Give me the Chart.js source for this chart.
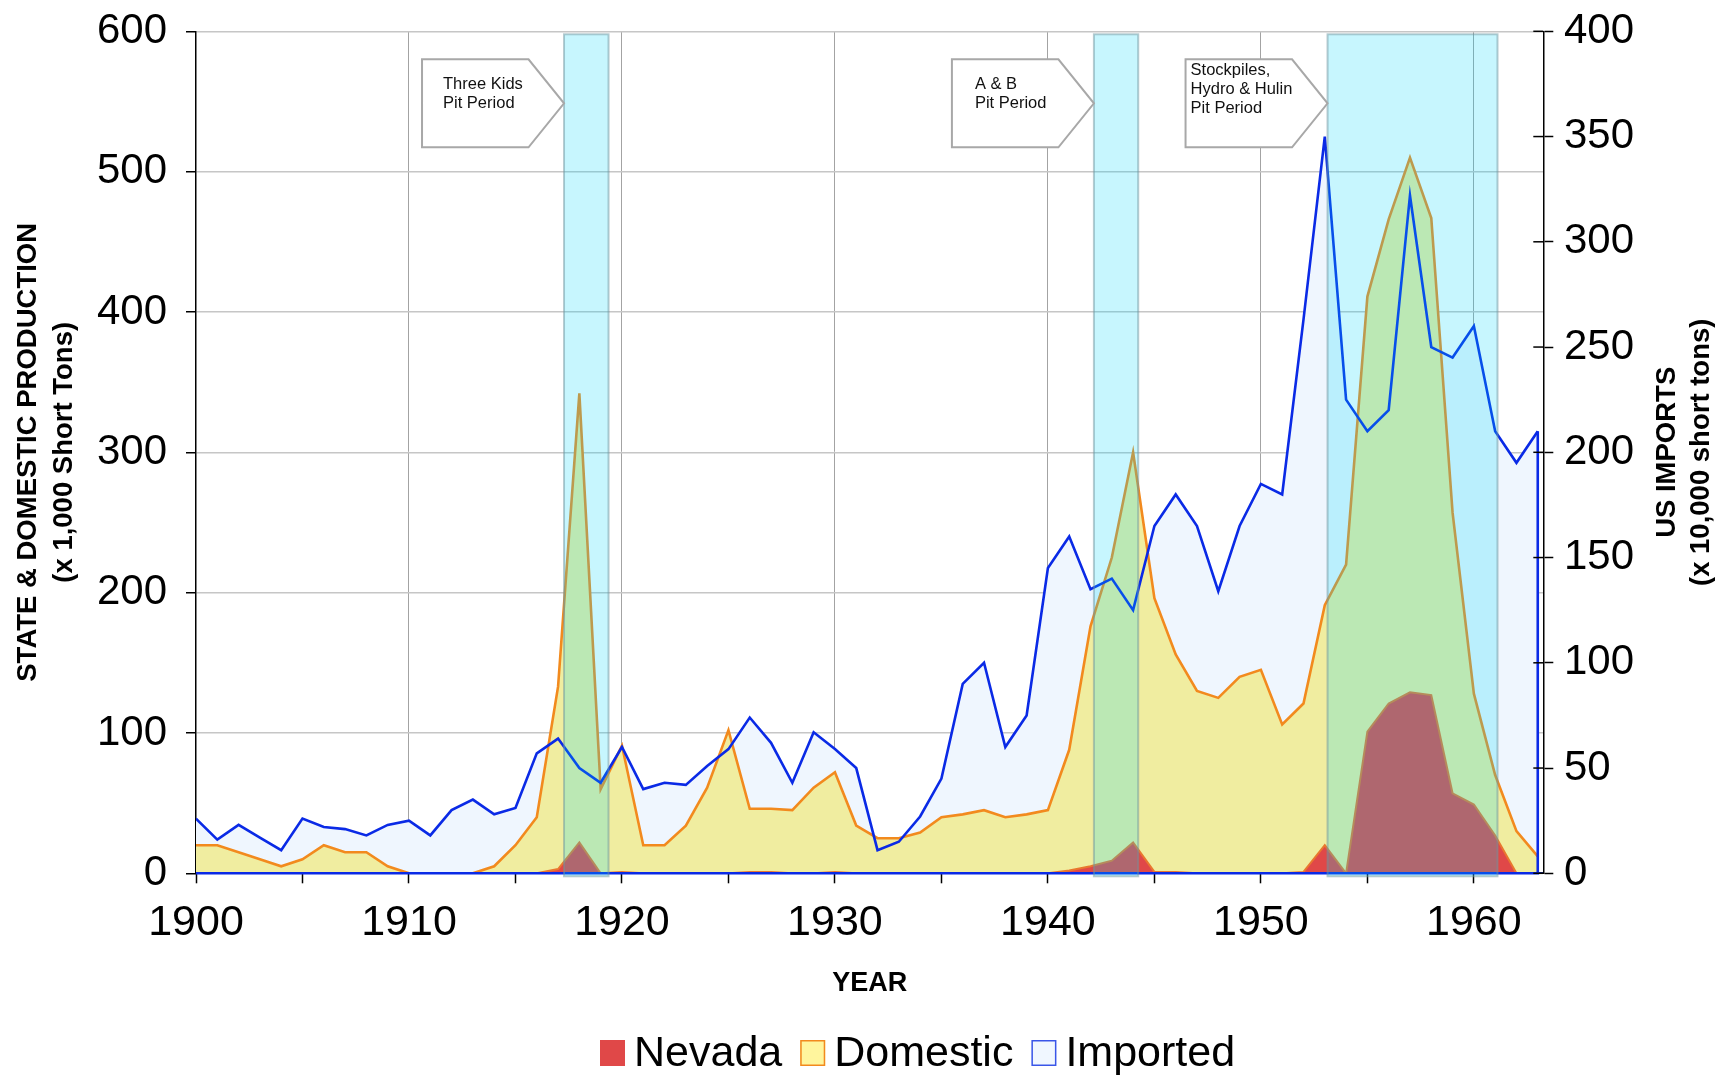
<!DOCTYPE html>
<html lang="en">
<head>
<meta charset="UTF-8">
<title>State, Domestic Production and US Imports</title>
<style>
    body {
        margin: 0;
        background: #fff;
        font-family: "Liberation Sans", Arial, sans-serif;
    }

    .wrap {
        position: relative;
        width: 1727px;
        height: 1078px;
    }
</style>
</head>
<body>
<div class="wrap"><canvas id="chart"></canvas></div>

<script src="https://cdn.jsdelivr.net/npm/chart.js"></script>
<script>
    // Data
    const years = [1900, 1901, 1902, 1903, 1904, 1905, 1906, 1907, 1908, 1909,
        1910, 1911, 1912, 1913, 1914, 1915, 1916, 1917, 1918, 1919,
        1920, 1921, 1922, 1923, 1924, 1925, 1926, 1927, 1928, 1929,
        1930, 1931, 1932, 1933, 1934, 1935, 1936, 1937, 1938, 1939,
        1940, 1941, 1942, 1943, 1944, 1945, 1946, 1947, 1948, 1949,
        1950, 1951, 1952, 1953, 1954, 1955, 1956, 1957, 1958, 1959,
        1960, 1961, 1962, 1963];

    // x 1,000 short tons (left axis)
    const nevada = [0, 0, 0, 0, 0, 0, 0, 0, 0, 0,
        0, 0, 0, 0, 0, 0, 0, 3, 22, 0,
        1, 0, 0, 0, 0, 0, 1, 1, 0, 0,
        1, 0, 0, 0, 0, 0, 0, 0, 0, 0,
        0, 2, 5, 9, 22, 1, 1, 0, 0, 0,
        0, 0, 1, 20, 0, 101, 121, 129, 127, 57,
        49, 27, 0, 0];

    const domestic = [20, 20, 15, 10, 5, 10, 20, 15, 15, 5,
        0, 0, 0, 0, 5, 20, 40, 133, 342, 60,
        91, 20, 20, 34, 61, 102, 46, 46, 45, 61,
        72, 34, 25, 25, 29, 40, 42, 45, 40, 42,
        45, 88, 176, 225, 300, 196, 156, 130, 125, 140,
        145, 106, 121, 191, 220, 411, 466, 510, 467, 257,
        128, 70, 30, 12];

    // x 10,000 short tons (right axis)
    const imported = [26, 16, 23, 17, 11, 26, 22, 21, 18, 23,
        25, 18, 30, 35, 28, 31, 57, 64, 50, 43,
        60, 40, 43, 42, 51, 59, 74, 62, 43, 67,
        59, 50, 11, 15, 27, 45, 90, 100, 60, 75,
        145, 160, 135, 140, 125, 165, 180, 165, 134, 165,
        185, 180, 263, 350, 225, 210, 220, 322, 250, 245,
        260, 210, 195, 210];

    const xTickMarks = [1900, 1905, 1910, 1915, 1920, 1925, 1930, 1935, 1940, 1945, 1950, 1955, 1960];
    const xTickLabels = [1900, 1910, 1920, 1930, 1940, 1950, 1960];
    const leftTicks = [0, 100, 200, 300, 400, 500, 600];
    const rightTicks = [0, 50, 100, 150, 200, 250, 300, 350, 400];

    // mining periods shaded on the chart
    const periodStart = [1917.28, 1942.16, 1953.13];
    const periodEnd = [1919.37, 1944.24, 1961.11];
    const periodLabels = [
        ['Three Kids', 'Pit Period'],
        ['A & B', 'Pit Period'],
        ['Stockpiles,', 'Hydro & Hulin', 'Pit Period']
    ];

    const FONT = '"Liberation Sans", Arial, Helvetica, sans-serif';
    const BLUE = '#0a2ae6';
    const ORANGE = '#f28a1e';

    // text placement inside each callout (offset from box left / box top)
    const calloutText = [{ dx: 21, dy: 30 }, { dx: 23, dy: 30 }, { dx: 5, dy: 16 }];

    const toPoints = arr => years.map((yr, i) => ({ x: yr, y: arr[i] }));

    // no label overflow padding, so the plot top stays where the layout padding puts it
    const noOverflow = s => { s.paddingTop = 0; s.paddingBottom = 0; };

    // closes the imported outline: right edge and baseline, like the original
    const importsOutline = {
        id: 'importsOutline',
        afterDatasetsDraw(chart) {
            const { ctx } = chart;
            const pts = chart.getDatasetMeta(0).data;
            const first = pts[0], last = pts[pts.length - 1];
            const base = chart.scales.y2.getPixelForValue(0);
            ctx.save();
            ctx.strokeStyle = BLUE;
            ctx.lineWidth = 2.6;
            ctx.beginPath();
            ctx.moveTo(last.x, last.y);
            ctx.lineTo(last.x, base);
            ctx.lineTo(first.x, base);
            ctx.stroke();
            ctx.restore();
        }
    };

    // cyan period bands and the arrow callouts
    const periodBands = {
        id: 'periodBands',
        afterDatasetsDraw(chart) {
            const { ctx, chartArea: a, scales: { x } } = chart;
            ctx.save();
            periodStart.forEach((s, i) => {
                const x1 = x.getPixelForValue(s);
                const x2 = x.getPixelForValue(periodEnd[i]);
                const top = a.top + 3, bot = a.bottom + 3;
                ctx.fillStyle = 'rgba(0, 212, 250, 0.22)';
                ctx.fillRect(x1, top, x2 - x1, bot - top);
                ctx.strokeStyle = 'rgba(110, 150, 160, 0.5)';
                ctx.lineWidth = 2;
                ctx.strokeRect(x1, top, x2 - x1, bot - top);
            });

            const h = 88, w = 142, arrow = 35.5, top = a.top + 28;
            periodStart.forEach((s, i) => {
                const tip = x.getPixelForValue(s);
                const left = tip - w;
                ctx.beginPath();
                ctx.moveTo(left, top);
                ctx.lineTo(tip - arrow, top);
                ctx.lineTo(tip, top + h / 2);
                ctx.lineTo(tip - arrow, top + h);
                ctx.lineTo(left, top + h);
                ctx.closePath();
                ctx.fillStyle = '#fff';
                ctx.fill();
                ctx.strokeStyle = '#a8a8a8';
                ctx.lineWidth = 2;
                ctx.stroke();

                ctx.fillStyle = '#111';
                ctx.font = '16.5px ' + FONT;
                ctx.textAlign = 'left';
                ctx.textBaseline = 'alphabetic';
                periodLabels[i].forEach((t, j) => {
                    ctx.fillText(t, left + calloutText[i].dx, top + calloutText[i].dy + j * 19);
                });
            });
            ctx.restore();
        }
    };

    // right axis: inner half of the ticks and the bottom-to-top title
    const rightAxisExtras = {
        id: 'rightAxisExtras',
        afterDraw(chart) {
            const { ctx, chartArea: a, scales: { y2 } } = chart;
            ctx.save();
            ctx.strokeStyle = '#000';
            ctx.lineWidth = 1.5;
            y2.ticks.forEach(t => {
                const py = y2.getPixelForValue(t.value);
                ctx.beginPath();
                ctx.moveTo(a.right - 10, py);
                ctx.lineTo(a.right, py);
                ctx.stroke();
            });

            const cy = (a.top + a.bottom) / 2;
            ctx.fillStyle = '#000';
            ctx.font = 'bold 27.5px ' + FONT;
            ctx.textAlign = 'center';
            ctx.textBaseline = 'alphabetic';
            ctx.translate(1675, cy);
            ctx.rotate(-Math.PI / 2);
            ctx.fillText('US IMPORTS', 0, 0);
            ctx.fillText('(x 10,000 short tons)', 0, 34);
            ctx.restore();
        }
    };

    // legend row under the chart
    const legendRow = {
        id: 'legendRow',
        afterDraw(chart) {
            const { ctx } = chart;
            const items = [
                { text: 'Nevada', fill: '#e04848', stroke: null },
                { text: 'Domestic', fill: '#fff59d', stroke: ORANGE },
                { text: 'Imported', fill: '#f0f7ff', stroke: '#3a56e8' }
            ];
            const cy = 1053;
            let x = 600;
            ctx.save();
            ctx.font = '43px ' + FONT;
            ctx.textBaseline = 'middle';
            ctx.textAlign = 'left';
            items.forEach(it => {
                ctx.fillStyle = it.fill;
                ctx.fillRect(x, cy - 13, 25, 26);
                if (it.stroke) {
                    ctx.strokeStyle = it.stroke;
                    ctx.lineWidth = 1.5;
                    ctx.strokeRect(x + 0.75, cy - 12.25, 23.5, 24.5);
                }
                ctx.fillStyle = '#000';
                ctx.fillText(it.text, x + 34, cy + 1);
                x += 34 + ctx.measureText(it.text).width + 18;
            });
            ctx.restore();
        }
    };

    const ctx = document.getElementById('chart').getContext('2d');
    const chart = new Chart(ctx, {
        type: 'line',
        data: {
            datasets: [
                {
                    label: 'Imported line',
                    data: toPoints(imported),
                    yAxisID: 'y2',
                    borderColor: BLUE,
                    borderWidth: 2.6,
                    fill: false
                },
                {
                    label: 'Nevada',
                    data: toPoints(nevada),
                    yAxisID: 'y',
                    borderColor: '#e9772f',
                    borderWidth: 2,
                    backgroundColor: '#e04848',
                    fill: 'origin'
                },
                {
                    label: 'Domestic',
                    data: toPoints(domestic),
                    yAxisID: 'y',
                    borderColor: ORANGE,
                    borderWidth: 2.6,
                    backgroundColor: '#f0eda0',
                    fill: 'origin'
                },
                {
                    label: 'Imported',
                    data: toPoints(imported),
                    yAxisID: 'y2',
                    borderWidth: 0,
                    backgroundColor: '#eff6fe',
                    fill: 'origin'
                }
            ]
        },
        options: {
            responsive: true,
            maintainAspectRatio: false,
            animation: false,
            layout: { padding: { top: 31.3, left: 0, right: 0, bottom: 0 } },
            elements: {
                point: { radius: 0 },
                line: { tension: 0 }
            },
            plugins: {
                legend: { display: false },
                tooltip: { enabled: false }
            },
            scales: {
                x: {
                    type: 'linear',
                    min: 1900,
                    max: 1963.26,
                    afterFit: s => { s.height = 204.7; },
                    afterBuildTicks: s => { s.ticks = xTickMarks.map(v => ({ value: v })); },
                    ticks: {
                        autoSkip: false,
                        maxRotation: 0,
                        padding: 14,
                        color: '#000',
                        font: { size: 43, family: FONT },
                        callback: v => xTickLabels.includes(v) ? String(v) : ''
                    },
                    grid: {
                        color: c => (c.tick && c.tick.value % 10 === 0 && c.tick.value > 1900) ? '#a3a3a3' : 'rgba(0,0,0,0)',
                        lineWidth: 1,
                        tickColor: '#000',
                        tickLength: 10,
                        tickWidth: 1.5
                    },
                    border: { color: '#1b2a8c', width: 2 },
                    title: {
                        display: true,
                        text: 'YEAR',
                        color: '#000',
                        font: { size: 27, weight: 'bold', family: FONT },
                        padding: { top: 0, bottom: 78.3 }
                    }
                },
                y: {
                    position: 'left',
                    min: 0,
                    max: 600,
                    afterFit: s => { s.width = 196; noOverflow(s); },
                    afterBuildTicks: s => { s.ticks = leftTicks.map(v => ({ value: v })); },
                    ticks: {
                        padding: 19,
                        color: '#000',
                        font: { size: 42, family: FONT }
                    },
                    grid: {
                        color: c => (c.tick && c.tick.value === 0) ? 'rgba(0,0,0,0)' : '#c6c6c6',
                        lineWidth: 1.5,
                        tickColor: '#000',
                        tickLength: 10,
                        tickWidth: 1.5
                    },
                    border: { color: '#000', width: 1.5 },
                    title: {
                        display: true,
                        text: ['STATE & DOMESTIC PRODUCTION', '(x 1,000 Short Tons)'],
                        color: '#000',
                        font: { size: 27.5, weight: 'bold', family: FONT, lineHeight: 1.31 },
                        padding: { top: 10, bottom: 0 }
                    }
                },
                y2: {
                    position: 'right',
                    min: 0,
                    max: 400,
                    afterFit: s => { s.width = 183.7; noOverflow(s); },
                    afterBuildTicks: s => { s.ticks = rightTicks.map(v => ({ value: v })); },
                    ticks: {
                        padding: 10.7,
                        color: '#000',
                        font: { size: 42, family: FONT }
                    },
                    grid: {
                        drawOnChartArea: false,
                        tickColor: '#000',
                        tickLength: 10,
                        tickWidth: 1.5
                    },
                    border: { color: '#000', width: 1.5 }
                }
            }
        },
        plugins: [importsOutline, periodBands, rightAxisExtras, legendRow]
    });
</script>
</body>
</html>
